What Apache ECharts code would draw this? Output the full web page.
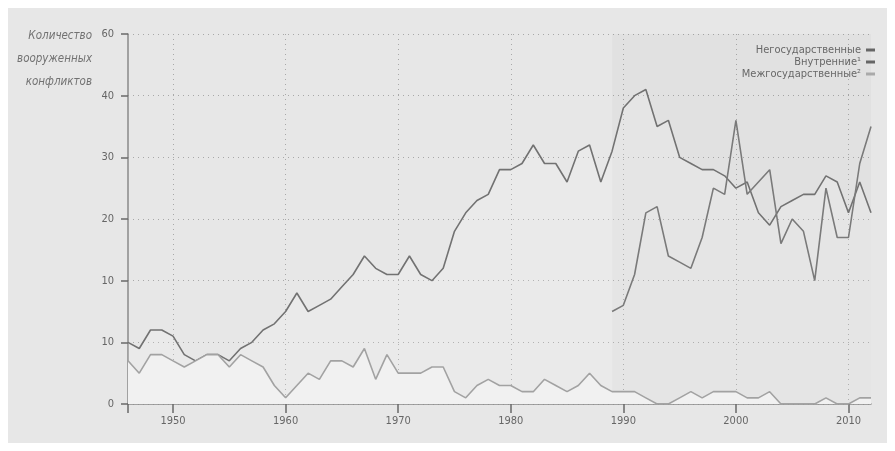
<!DOCTYPE html>
<html>
<head>
<meta charset="utf-8">
<script src="https://cdn.jsdelivr.net/npm/echarts@6/dist/echarts.min.js"></script>
<style>
  html, body { margin: 0; padding: 0; background: #fff; }
  .panel { position: absolute; left: 8px; top: 8px; width: 879px; height: 435px; background: #e7e7e7; }
  #chart { position: absolute; left: 0; top: 0; width: 895px; height: 451px; }
</style>
</head>
<body>
<div class="panel"></div>
<div id="chart"></div>
<script>
// years 1946..2012
const years = [];
for (let y = 1946; y <= 2012; y++) years.push(String(y));

// tick labels as printed on the original (sic)
const yTickLabels = ['0', '10', '10', '20', '30', '40', '60'];

const seriesNames = ['Негосударственные', 'Внутренние¹', 'Межгосударственные²'];

// 1946-2012
const internal = [
  10, 9, 12, 12, 11, 8, 7, 8, 8, 7,
  9, 10, 12, 13, 15, 18, 15, 16, 17, 19,
  21, 24, 22, 21, 21, 24, 21, 20, 22, 28,
  31, 33, 34, 38, 38, 39, 42, 39, 39, 36,
  41, 42, 36, 41, 48, 50, 51, 45, 46, 40,
  39, 38, 38, 37, 35, 36, 31, 29, 32, 33,
  34, 34, 37, 36, 31, 36, 31
];

// 1946-2012
const interstate = [
  7, 5, 8, 8, 7, 6, 7, 8, 8, 6,
  8, 7, 6, 3, 1, 3, 5, 4, 7, 7,
  6, 9, 4, 8, 5, 5, 5, 6, 6, 2,
  1, 3, 4, 3, 3, 2, 2, 4, 3, 2,
  3, 5, 3, 2, 2, 2, 1, 0, 0, 1,
  2, 1, 2, 2, 2, 1, 1, 2, 0, 0,
  0, 0, 1, 0, 0, 1, 1
];

// 1989-2012
const nonStateStart = '1989';
const nonState = [
  15, 16, 21, 31, 32, 24, 23, 22, 27, 35,
  34, 46, 34, 36, 38, 26, 30, 28, 20, 35,
  27, 27, 39, 45
];

const font = '"Liberation Sans Narrow", "DejaVu Sans Condensed", "Open Sans", sans-serif';
const nonStateFull = years.map(y => {
  const i = Number(y) - Number(nonStateStart);
  return i >= 0 ? nonState[i] : null;
});
const isDecade = (idx, val) => Number(val) % 10 === 0;

const chart = echarts.init(document.getElementById('chart'));
chart.setOption({
  backgroundColor: 'transparent',
  animation: false,
  textStyle: { fontFamily: font },
  grid: { left: 128, right: 24, top: 34, bottom: 47 },
  graphic: [{
    type: 'text',
    x: 92,
    y: 25,
    style: {
      text: 'Количество\nвооруженных\nконфликтов',
      textAlign: 'right',
      align: 'right',
      textVerticalAlign: 'top',
      verticalAlign: 'top',
      fontFamily: font,
      fontStyle: 'italic',
      fontSize: 11.5,
      lineHeight: 23,
      fill: '#727272'
    }
  }],
  legend: {
    orient: 'vertical',
    right: 15,
    top: 39,
    align: 'right',
    itemGap: 0,
    itemWidth: 9,
    itemHeight: 3,
    icon: 'rect',
    selectedMode: false,
    textStyle: { fontFamily: font, fontSize: 11, color: '#666', lineHeight: 12, padding: [0, 0, 0, 0] },
    data: [
      { name: seriesNames[0], itemStyle: { color: '#666' } },
      { name: seriesNames[1], itemStyle: { color: '#666' } },
      { name: seriesNames[2], itemStyle: { color: '#aaa' } }
    ]
  },
  xAxis: {
    type: 'category',
    data: years,
    boundaryGap: false,
    axisLine: { lineStyle: { color: '#8a8a8a', width: 1.5 } },
    axisTick: { interval: (idx, val) => idx === 0 || isDecade(idx, val), length: 9, lineStyle: { color: '#6a6a6a', width: 1.5 } },
    axisLabel: { interval: isDecade, margin: 12, fontSize: 11, color: '#666', fontFamily: font },
    splitLine: { show: true, interval: isDecade, lineStyle: { type: [1, 4], color: '#a8a8a8', width: 1 } }
  },
  yAxis: {
    type: 'value',
    min: 0,
    max: 60,
    interval: 10,
    axisLine: { show: true, lineStyle: { color: '#8a8a8a', width: 1.5 } },
    axisTick: { show: true, length: 7, lineStyle: { color: '#6a6a6a', width: 1.5 } },
    axisLabel: {
      margin: 14, fontSize: 11, color: '#666', fontFamily: font,
      formatter: v => yTickLabels[Math.round(v / 10)]
    },
    splitLine: { show: true, lineStyle: { type: [1, 4], color: '#a8a8a8', width: 1 } }
  },
  series: [
    {
      name: seriesNames[1],
      type: 'line',
      data: internal,
      symbol: 'none',
      color: '#666',
      lineStyle: { color: '#727272', width: 1.6 },
      areaStyle: { color: 'rgba(255,255,255,0.18)' },
      z: 3
    },
    {
      name: seriesNames[2],
      type: 'line',
      data: interstate,
      symbol: 'none',
      color: '#aaa',
      lineStyle: { color: '#a2a2a2', width: 1.6 },
      areaStyle: { color: '#f1f1f1', opacity: 1 },
      z: 4
    },
    {
      name: seriesNames[0],
      type: 'line',
      data: nonStateFull,
      symbol: 'none',
      color: '#666',
      connectNulls: false,
      lineStyle: { color: '#7a7a7a', width: 1.6 },
      markArea: {
        silent: true,
        itemStyle: { color: 'rgba(0,0,0,0.022)' },
        data: [[{ xAxis: nonStateStart }, { xAxis: years[years.length - 1] }]]
      },
      z: 5
    }
  ]
});
</script>
</body>
</html>
